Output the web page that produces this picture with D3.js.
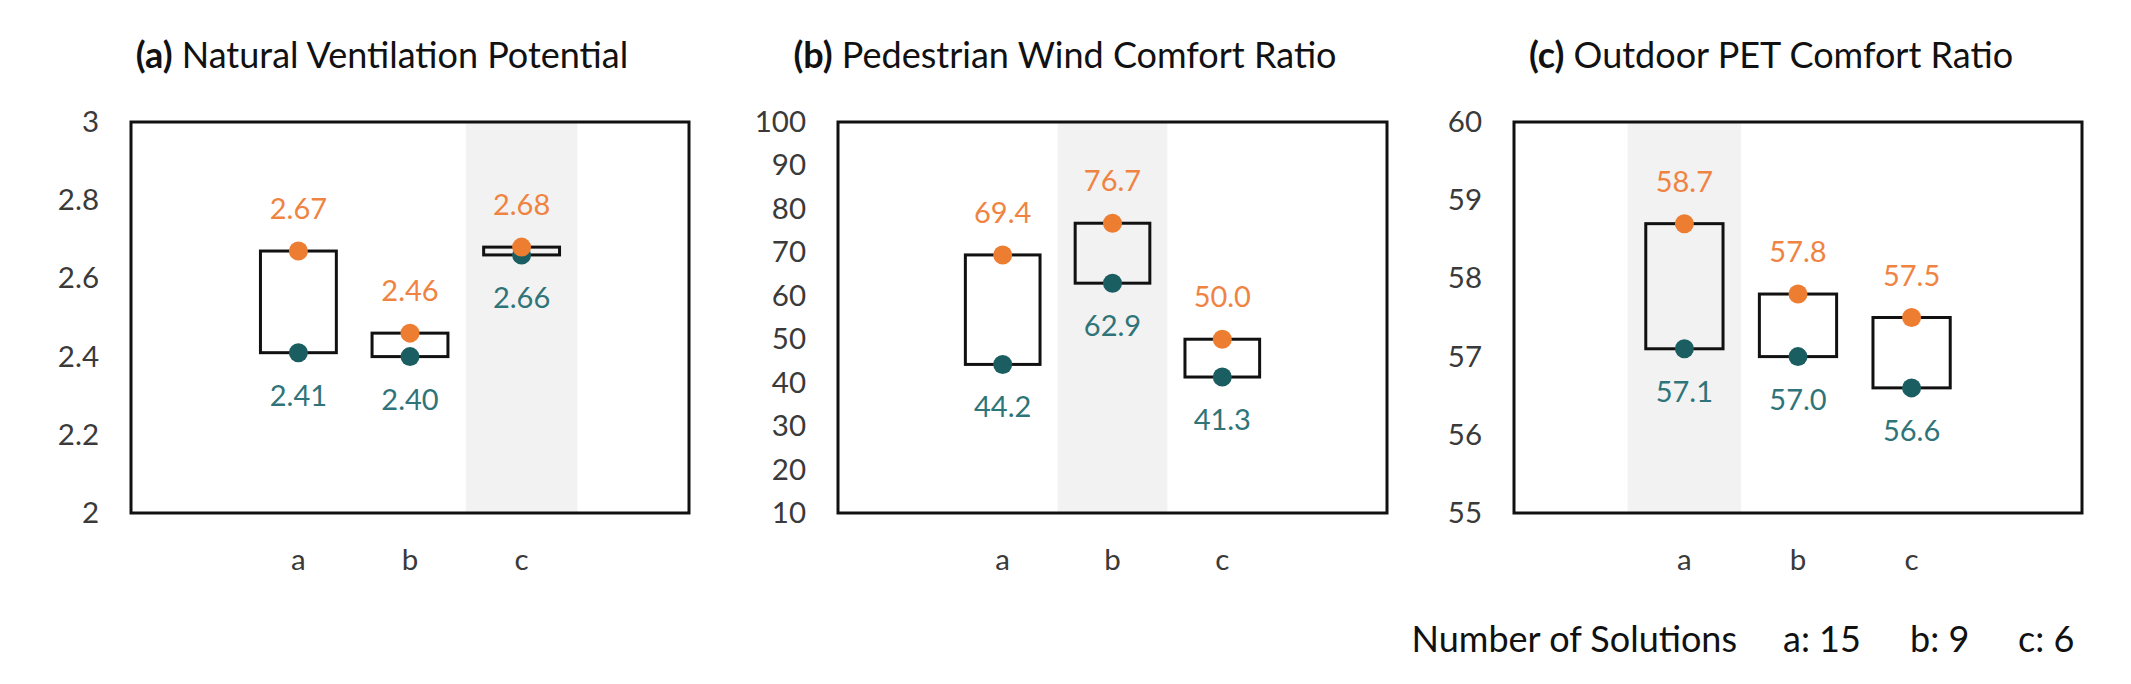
<!DOCTYPE html>
<html>
<head>
<meta charset="utf-8">
<script src="https://cdn.jsdelivr.net/npm/d3@7"></script>
<style>
  html, body { margin: 0; padding: 0; background: #fff; }
  svg { display: block; font-family: Lato, "Open Sans", sans-serif; }
</style>
</head>
<body>
<svg id="chart" width="2131" height="684"></svg>
<script>
// ---- data ----
const categories = ["a", "b", "c"];
const panelLetters = ["(a)", "(b)", "(c)"];
const panelTitles = ["Natural Ventilation Potential", "Pedestrian Wind Comfort Ratio", "Outdoor PET Comfort Ratio"];

const nvpMax = [2.67, 2.46, 2.68];
const nvpMin = [2.41, 2.40, 2.66];
const pwcMax = [69.4, 76.7, 50.0];
const pwcMin = [44.2, 62.9, 41.3];
const petMax = [58.7, 57.8, 57.5];
const petMin = [57.1, 57.0, 56.6];

const nvpTicks = [2, 2.2, 2.4, 2.6, 2.8, 3];
const pwcTicks = [10, 20, 30, 40, 50, 60, 70, 80, 90, 100];
const petTicks = [55, 56, 57, 58, 59, 60];

const highlighted = ["c", "b", "a"];
const solutionCounts = [15, 9, 6];
const legendTitle = "Number of Solutions";

// ---- styling / layout ----
const ORANGE = "#ED7D31", TEAL = "#1B5E62";
const ORANGE_TXT = "#EF8442", TEAL_TXT = "#2F7478";
const GRAY_BG = "#F2F2F2";
const TEXT = "#3A3A3A";

const panels = [
  { max: nvpMax, min: nvpMin, ticks: nvpTicks, fmt: d3.format(".2f"), tickFmt: d3.format("~g"),
    x0: 131, x1: 689, titleX: 382, hl: highlighted[0] },
  { max: pwcMax, min: pwcMin, ticks: pwcTicks, fmt: d3.format(".1f"), tickFmt: d3.format("~g"),
    x0: 838, x1: 1387, titleX: 1065, hl: highlighted[1] },
  { max: petMax, min: petMin, ticks: petTicks, fmt: d3.format(".1f"), tickFmt: d3.format("~g"),
    x0: 1514, x1: 2082, titleX: 1771, hl: highlighted[2] }
];
const Y0 = 122, Y1 = 513;

const svg = d3.select("#chart");

panels.forEach((p, i) => {
  const g = svg.append("g");
  const x = d3.scaleBand().domain(categories).range([p.x0, p.x1]).paddingInner(0).paddingOuter(1);
  const y = d3.scaleLinear().domain([p.ticks[0], p.ticks[p.ticks.length - 1]]).range([Y1, Y0]);
  const bw = x.bandwidth() * 0.68;
  const cx = c => x(c) + x.bandwidth() / 2;

  // highlight band
  g.append("rect")
    .attr("x", x(p.hl)).attr("y", Y0)
    .attr("width", x.bandwidth()).attr("height", Y1 - Y0)
    .attr("fill", GRAY_BG);

  // y axis labels
  const yAxis = d3.axisLeft(y).tickValues(p.ticks).tickFormat(p.tickFmt).tickSize(0).tickPadding(32);
  const ya = g.append("g").attr("transform", `translate(${p.x0},0)`).call(yAxis);
  ya.select(".domain").remove();
  ya.selectAll("text").attr("font-size", 29.5).attr("fill", TEXT).attr("font-family", "Lato, sans-serif");

  // x axis labels
  const xAxis = d3.axisBottom(x).tickSize(0).tickPadding(36);
  const xa = g.append("g").attr("transform", `translate(0,${Y1})`).call(xAxis);
  xa.select(".domain").remove();
  xa.selectAll("text").attr("font-size", 29.5).attr("fill", TEXT).attr("font-family", "Lato, sans-serif");

  // plot frame
  g.append("rect")
    .attr("x", p.x0).attr("y", Y0)
    .attr("width", p.x1 - p.x0).attr("height", Y1 - Y0)
    .attr("fill", "none").attr("stroke", "#111").attr("stroke-width", 3);

  // range boxes
  g.selectAll("rect.rng").data(categories).join("rect").attr("class", "rng")
    .attr("x", c => cx(c) - bw / 2)
    .attr("y", (c, j) => y(p.max[j]))
    .attr("width", bw)
    .attr("height", (c, j) => Math.max(0, y(p.min[j]) - y(p.max[j])))
    .attr("fill", "none").attr("stroke", "#111").attr("stroke-width", 3);

  // min dots (teal), then max dots (orange)
  g.selectAll("circle.mn").data(categories).join("circle").attr("class", "mn")
    .attr("cx", cx).attr("cy", (c, j) => y(p.min[j])).attr("r", 9.5).attr("fill", TEAL);
  g.selectAll("circle.mx").data(categories).join("circle").attr("class", "mx")
    .attr("cx", cx).attr("cy", (c, j) => y(p.max[j])).attr("r", 9.5).attr("fill", ORANGE);

  // value labels
  g.selectAll("text.mxl").data(categories).join("text").attr("class", "mxl")
    .attr("x", cx).attr("y", (c, j) => y(p.max[j]) - 32)
    .attr("text-anchor", "middle").attr("font-size", 29).attr("fill", ORANGE_TXT)
    .text((c, j) => p.fmt(p.max[j]));
  g.selectAll("text.mnl").data(categories).join("text").attr("class", "mnl")
    .attr("x", cx).attr("y", (c, j) => y(p.min[j]) + 53)
    .attr("text-anchor", "middle").attr("font-size", 29).attr("fill", TEAL_TXT)
    .text((c, j) => p.fmt(p.min[j]));

  // title
  const t = g.append("text").attr("x", p.titleX).attr("y", 68)
    .attr("text-anchor", "middle").attr("font-size", 36).attr("fill", "#111");
  t.append("tspan").attr("font-weight", "bold").text(panelLetters[i]);
  t.append("tspan").text(" " + panelTitles[i]);
});

// legend: number of solutions
const lg = svg.append("g").attr("font-size", 36).attr("fill", "#111");
lg.append("text").attr("x", 1737).attr("y", 652).attr("text-anchor", "end").text(legendTitle);
const legendX = [1783, 1910, 2018];
categories.forEach((c, i) => {
  lg.append("text").attr("x", legendX[i]).attr("y", 652).text(`${c}: ${solutionCounts[i]}`);
});
</script>
</body>
</html>
